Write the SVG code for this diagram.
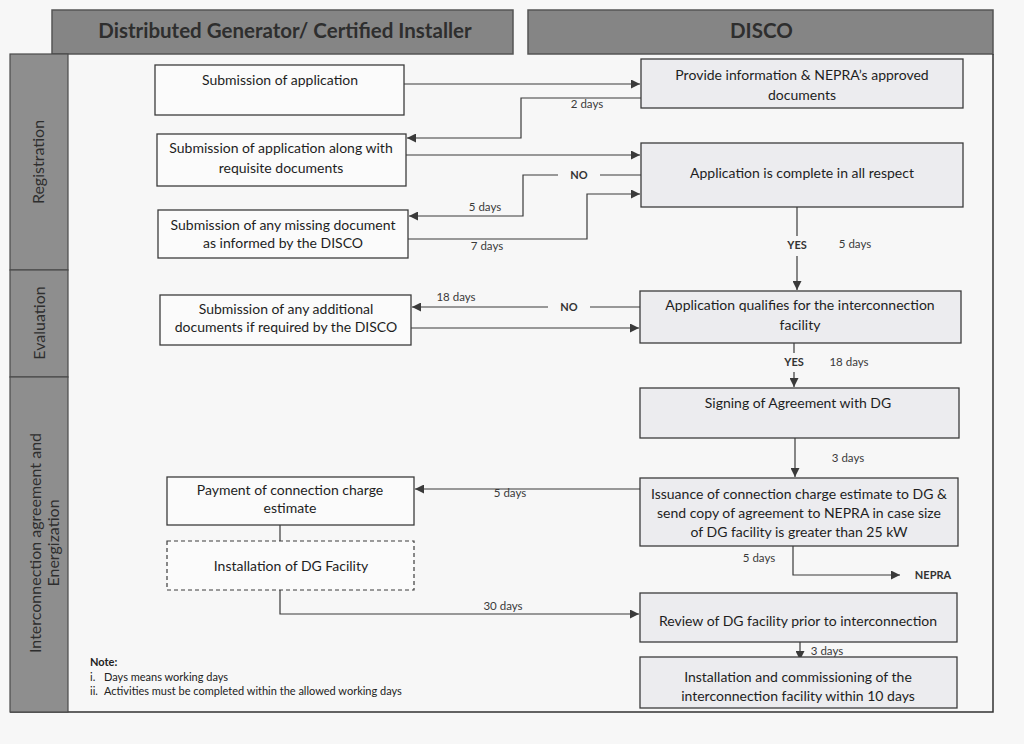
<svg xmlns="http://www.w3.org/2000/svg" width="1024" height="744" viewBox="0 0 1024 744">
<defs>
<marker id="ah" viewBox="0 0 10 10" refX="10" refY="5" markerWidth="9" markerHeight="9" markerUnits="userSpaceOnUse" orient="auto">
<path d="M0,0 L10,5 L0,10 z" fill="#3a3a3a"/>
</marker>
<style>
.hdr{fill:#858585;stroke:#555;stroke-width:1.5}
.hdrt{font-family:Lato,"Open Sans",sans-serif;font-weight:bold;font-size:20.5px;fill:#2e2e2e}
.lane{fill:#8e8e8e;stroke:#4a4a4a;stroke-width:1.2}
.lanet{font-family:Lato,"Open Sans",sans-serif;font-size:16px;fill:#2e2e2e}
.box{fill:#fbfbfb;stroke:#3c3c3c;stroke-width:1.3}
.boxr{fill:#ececef;stroke:#3c3c3c;stroke-width:1.3}
.dash{fill:#fbfbfb;stroke:#3c3c3c;stroke-width:1.2;stroke-dasharray:4,3}
.t{font-family:Lato,"Open Sans",sans-serif;font-size:14px;fill:#1e1e1e;text-anchor:middle}
.c{fill:none;stroke:#3a3a3a;stroke-width:1.2}
.ca{fill:none;stroke:#3a3a3a;stroke-width:1.2;marker-end:url(#ah)}
.d{font-family:Lato,"Open Sans",sans-serif;font-size:11.5px;fill:#3a3a3a;text-anchor:middle}
.yn{font-family:Lato,"Open Sans",sans-serif;font-size:11px;font-weight:bold;fill:#333;text-anchor:middle}
.note{font-family:Lato,"Open Sans",sans-serif;font-size:11px;fill:#222}
</style>
</defs>
<rect x="0" y="0" width="1024" height="744" fill="#f7f7f7"/>

<g id="header-dg"><rect class="hdr" x="52" y="10" width="461" height="44"/><text class="hdrt" x="285" y="38" text-anchor="middle">Distributed Generator/ Certified Installer</text></g>
<g id="header-disco"><rect class="hdr" x="528" y="10" width="465" height="44"/><text class="hdrt" x="730" y="38">DISCO</text></g>

<g id="frame"><path d="M993,54 L993,712 L10,712" fill="none" stroke="#333" stroke-width="1.5"/></g>

<g id="lane-registration"><rect class="lane" x="10" y="54" width="58" height="216"/><text class="lanet" transform="translate(44,162) rotate(-90)" text-anchor="middle">Registration</text></g>
<g id="lane-evaluation"><rect class="lane" x="10" y="270" width="58" height="107"/><text class="lanet" transform="translate(45,323) rotate(-90)" text-anchor="middle">Evaluation</text></g>
<g id="lane-interconnection"><rect class="lane" x="10" y="377" width="58" height="335"/><text class="lanet" transform="translate(41,543) rotate(-90)" text-anchor="middle">Interconnection agreement and</text><text class="lanet" transform="translate(59,543) rotate(-90)" text-anchor="middle">Energization</text></g>

<g id="connectors">
<path class="ca" d="M404,84 L640,84"/>
<path class="ca" d="M641,98 L521,98 L521,138 L407,138"/>
<text class="d" x="587" y="108">2 days</text>
<path class="ca" d="M406,155 L640,155"/>
<path class="c" d="M641,175 L600,175"/>
<text class="yn" x="579" y="179">NO</text>
<path class="ca" d="M558,175 L523,175 L523,216 L409,216"/>
<text class="d" x="485" y="211">5 days</text>
<path class="ca" d="M408,239 L587,239 L587,194 L640,194"/>
<text class="d" x="487" y="250">7 days</text>
<path class="c" d="M797,207 L797,236"/>
<text class="yn" x="797" y="249">YES</text>
<text class="d" x="855" y="248">5 days</text>
<path class="ca" d="M797,256 L797,290"/>
<path class="c" d="M640,307 L590,307"/>
<text class="yn" x="569" y="311">NO</text>
<path class="ca" d="M548,307 L412,307"/>
<text class="d" x="456" y="301">18 days</text>
<path class="ca" d="M411,328 L639,328"/>
<path class="c" d="M794,343 L794,353"/>
<text class="yn" x="794" y="366">YES</text>
<text class="d" x="849" y="366">18 days</text>
<path class="ca" d="M794,372 L794,387"/>
<path class="ca" d="M795,438 L795,477"/>
<text class="d" x="848" y="462">3 days</text>
<path class="ca" d="M640,489 L415,489"/>
<text class="d" x="510" y="497">5 days</text>
<path class="c" d="M280,525 L280,541"/>
<path class="ca" d="M280,590 L280,614 L639,614"/>
<text class="d" x="503" y="610">30 days</text>
<path class="ca" d="M793,546 L793,575 L900,575"/>
<text class="d" x="759" y="562">5 days</text>
<text class="yn" x="933" y="579">NEPRA</text>
<path class="ca" d="M800,642 L800,660"/>
<text class="d" x="827" y="655">3 days</text>
</g>

<g id="n1"><rect class="box" x="155" y="65" width="249" height="50"/><text class="t" x="280" y="85">Submission of application</text></g>
<g id="n2"><rect class="box" x="157" y="134" width="249" height="52"/><text class="t" x="281" y="153">Submission of application along with</text><text class="t" x="281" y="173">requisite documents</text></g>
<g id="n3"><rect class="box" x="158" y="210" width="250" height="48"/><text class="t" x="283" y="230">Submission of any missing document</text><text class="t" x="283" y="248">as informed by the DISCO</text></g>
<g id="n4"><rect class="box" x="160" y="295" width="251" height="50"/><text class="t" x="286" y="314">Submission of any additional</text><text class="t" x="286" y="332">documents if required by the DISCO</text></g>
<g id="n5"><rect class="box" x="167" y="477" width="247" height="48"/><text class="t" x="290" y="495">Payment of connection charge</text><text class="t" x="290" y="513">estimate</text></g>
<g id="n6"><rect class="dash" x="167" y="541" width="247" height="49"/><text class="t" x="291" y="571">Installation of DG Facility</text></g>

<g id="n7"><rect class="boxr" x="641" y="59" width="322" height="49"/><text class="t" x="802" y="80">Provide information &amp; NEPRA’s approved</text><text class="t" x="802" y="100">documents</text></g>
<g id="n8"><rect class="boxr" x="641" y="143" width="322" height="64"/><text class="t" x="802" y="178">Application is complete in all respect</text></g>
<g id="n9"><rect class="boxr" x="640" y="291" width="321" height="52"/><text class="t" x="800" y="310">Application qualifies for the interconnection</text><text class="t" x="800" y="330">facility</text></g>
<g id="n10"><rect class="boxr" x="640" y="388" width="319" height="50"/><text class="t" x="798" y="408">Signing of Agreement with DG</text></g>
<g id="n11"><rect class="boxr" x="640" y="478" width="318" height="68"/><text class="t" x="799" y="499">Issuance of connection charge estimate to DG &amp;</text><text class="t" x="799" y="518">send copy of agreement to NEPRA in case size</text><text class="t" x="799" y="537">of DG facility is greater than 25 kW</text></g>
<g id="n12"><rect class="boxr" x="640" y="593" width="317" height="49"/><text class="t" x="798" y="626">Review of DG facility prior to interconnection</text></g>
<g id="n13"><rect class="boxr" x="640" y="657" width="317" height="51"/><text class="t" x="798" y="682">Installation and commissioning of the</text><text class="t" x="798" y="701">interconnection facility within 10 days</text></g>

<g id="note">
<text class="note" x="90" y="666" font-weight="bold">Note:</text>
<text class="note" x="90" y="681">i.</text><text class="note" x="104" y="681">Days means working days</text>
<text class="note" x="90" y="695">ii.</text><text class="note" x="104" y="695">Activities must be completed within the allowed working days</text>
</g>
</svg>
